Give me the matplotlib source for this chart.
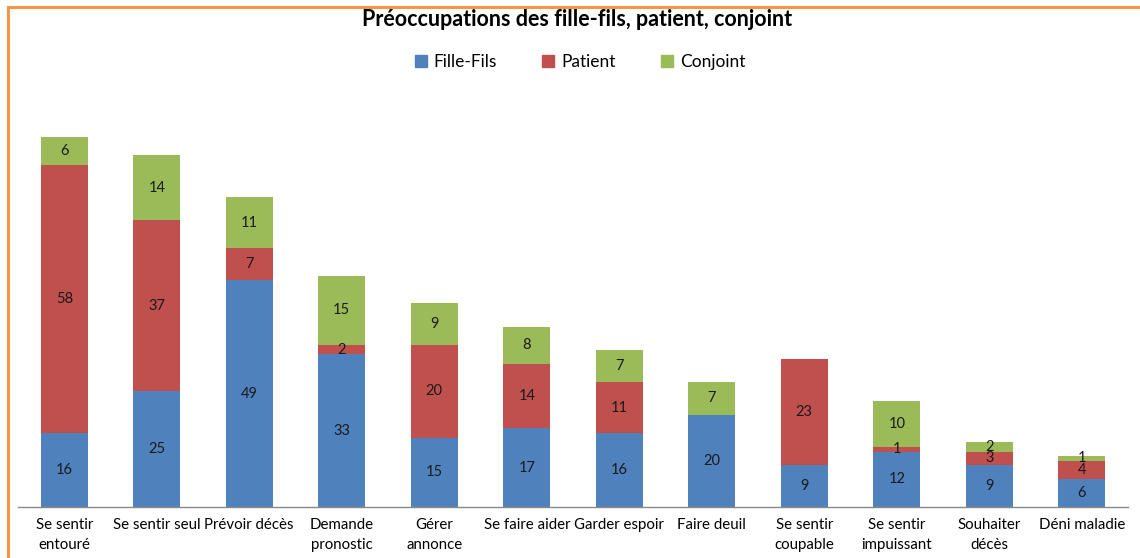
import numpy as np
import matplotlib.pyplot as plt
from matplotlib.lines import Line2D

categories = ["Se sentir\nentouré", "Se sentir seul", "Prévoir décès", "Demande\npronostic",
              "Gérer\nannonce", "Se faire aider", "Garder espoir", "Faire deuil",
              "Se sentir\ncoupable", "Se sentir\nimpuissant", "Souhaiter\ndécès", "Déni maladie"]
fille_fils = [16, 25, 49, 33, 15, 17, 16, 20, 9, 12, 9, 6]
patient = [58, 37, 7, 2, 20, 14, 11, 0, 23, 1, 3, 4]
conjoint = [6, 14, 11, 15, 9, 8, 7, 7, 0, 10, 2, 1]

series = [("Fille-Fils", fille_fils, "#4F81BD"),
          ("Patient", patient, "#C0504D"),
          ("Conjoint", conjoint, "#9BBB59")]

plt.rcParams['font.family'] = ['Lato', 'DejaVu Sans']

W, H = 1140, 558
fig = plt.figure(figsize=(W / 100, H / 100), dpi=100)
ax = fig.add_axes([18 / W, 1 - 507 / H, (1128 - 18) / W, (507 - 100) / H])

x = np.arange(len(categories))
bottom = np.zeros(len(categories))
for name, vals, color in series:
    vals = np.array(vals)
    ax.bar(x, vals, 0.51, bottom=bottom, color=color, label=name)
    for xi, b, v in zip(x, bottom, vals):
        if v > 0:
            ax.text(xi, b + v / 2, str(v), ha='center', va='center', fontsize=10.5, color='#1a1a1a')
    bottom += vals

ax.set_xlim(-0.5, len(categories) - 0.5)
ax.set_ylim(0, 88)
ax.set_yticks([])
ax.set_xticks(x)
ax.set_xticklabels(categories, fontsize=10.8, linespacing=1.5)
ax.tick_params(axis='x', length=0, pad=8)
for s in ['top', 'right', 'left']:
    ax.spines[s].set_visible(False)
ax.spines['bottom'].set_color('#888888')
ax.spines['bottom'].set_linewidth(1)

fig.text(577 / W, 1 - 20 / H, "Préoccupations des fille-fils, patient, conjoint",
         ha='center', va='center', fontsize=15.5, fontweight='bold')

handles = [plt.Rectangle((0, 0), 1, 1, color=c) for _, _, c in series]
fig.legend(handles, [n for n, _, _ in series], loc='center', bbox_to_anchor=(580 / W, 1 - 62 / H),
           ncol=3, frameon=False, fontsize=12.5, handlelength=0.7, handleheight=0.7,
           columnspacing=2.6, handletextpad=0.4)

# orange frame (left and top edges visible)
fig.add_artist(Line2D([8 / W, 8 / W], [0, 1 - 7 / H], color='#F79646', lw=2.2))
fig.add_artist(Line2D([8 / W, 1], [1 - 7 / H, 1 - 7 / H], color='#F79646', lw=2.2))

fig.savefig("out.png", dpi=100)
